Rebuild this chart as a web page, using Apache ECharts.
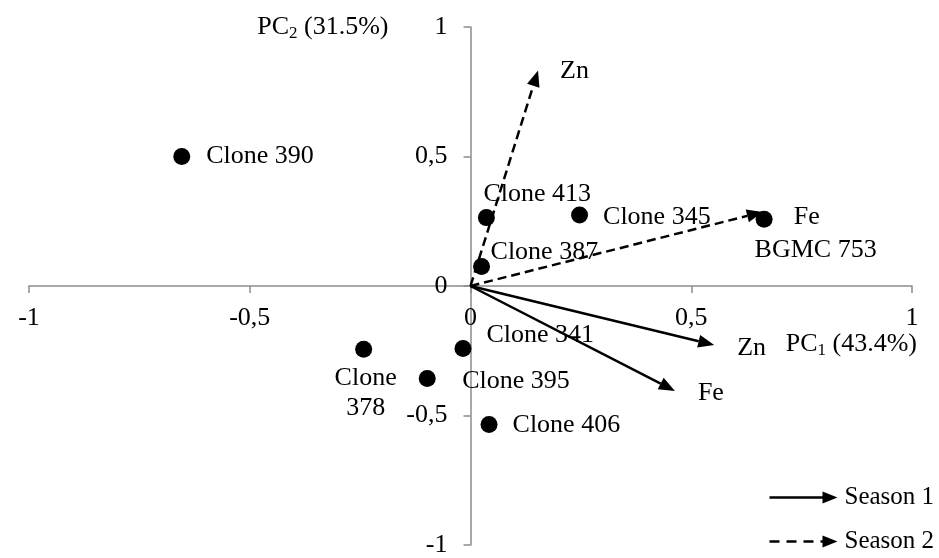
<!DOCTYPE html>
<html>
<head>
<meta charset="utf-8">
<script src="https://cdn.jsdelivr.net/npm/echarts@6/dist/echarts.min.js"></script>
<style>
  html, body { margin: 0; padding: 0; background: #ffffff; }
  #chart { width: 939px; height: 558px; }
</style>
</head>
<body>
<div id="chart"></div>
<script>
// PCA scores of the clones (PC1, PC2)
const clones = ['Clone 390', 'Clone 413', 'Clone 345', 'Clone 387', 'BGMC 753',
                'Clone 341', 'Clone\n378', 'Clone 395', 'Clone 406'];
const pc1Scores = [-0.654, 0.036, 0.247, 0.025, 0.665, -0.017, -0.242, -0.098, 0.042];
const pc2Scores = [0.500, 0.264, 0.274, 0.075, 0.258, -0.241, -0.244, -0.357, -0.535];

// Trait loadings (vectors from the origin)
const traits = ['Zn', 'Fe', 'Zn', 'Fe'];
const traitSeason = ['Season 1', 'Season 1', 'Season 2', 'Season 2'];
const pc1Loadings = [0.552, 0.463, 0.153, 0.662];
const pc2Loadings = [-0.228, -0.405, 0.832, 0.286];

// Axis ticks and their printed labels (decimal comma)
const axisTicks = [-1, -0.5, 0, 0.5, 1];
const tickLabels = ['-1', '-0,5', '0', '0,5', '1'];

const FONT = '"Liberation Serif", "Times New Roman", serif';
const FS = 26;
const AXIS_GRAY = '#8c8c8c';

// plot area
const GRID = { left: 29, right: 27, top: 27, bottom: 13 };
const PLOT_W = 939 - GRID.left - GRID.right;
const PLOT_H = 558 - GRID.top - GRID.bottom;

// label placement for each clone: [dx, dy] from the right edge of the dot
const cloneLabelOffset = {
  'Clone 390': [16, 0],
  'Clone 413': [-11.5, -23],
  'Clone 345': [15, 2],
  'Clone 387': [0.5, -14],
  'BGMC 753': [-18, 31],
  'Clone 341': [15, -13],
  'Clone 395': [26.5, 3],
  'Clone 406': [15, 1]
};
// trait-label placement relative to the arrow tip
const traitLabelOffset = [[23, 3], [23, 2], [22, 1], [31, 5]];

function tickText(v) {
  const i = axisTicks.findIndex(t => Math.abs(t - v) < 1e-9);
  return i >= 0 ? tickLabels[i] : '';
}

const scatterData = clones.map((name, i) => {
  const item = { name: name, value: [pc1Scores[i], pc2Scores[i]] };
  if (name.indexOf('\n') >= 0) {
    item.label = { position: 'bottom', distance: 5, offset: [2, 0], lineHeight: 30, align: 'center' };
  } else {
    item.label = { position: 'right', distance: 0, offset: cloneLabelOffset[name] };
  }
  return item;
});

function arrowData(season) {
  const out = [];
  traits.forEach((t, i) => {
    if (traitSeason[i] === season) out.push([pc1Loadings[i], pc2Loadings[i], i]);
  });
  return out;
}

function arrowRenderer(dashed) {
  return function (params, api) {
    const idx = api.value(2);
    const tip = api.coord([api.value(0), api.value(1)]);
    const o = api.coord([0, 0]);
    const dx = tip[0] - o[0], dy = tip[1] - o[1];
    const len = Math.sqrt(dx * dx + dy * dy);
    const ux = dx / len, uy = dy / len;
    const headLen = 16, headHalf = 6.5;
    const bx = tip[0] - ux * headLen, by = tip[1] - uy * headLen;
    const px = -uy, py = ux;
    const off = traitLabelOffset[idx];
    return {
      type: 'group',
      children: [
        {
          type: 'line',
          shape: { x1: o[0], y1: o[1], x2: bx, y2: by },
          style: { stroke: '#000', lineWidth: 2.5, lineDash: dashed ? [9, 5] : null }
        },
        {
          type: 'polygon',
          shape: { points: [[tip[0], tip[1]], [bx + px * headHalf, by + py * headHalf], [bx - px * headHalf, by - py * headHalf]] },
          style: { fill: '#000' }
        },
        {
          type: 'text',
          x: tip[0] + off[0],
          y: tip[1] + off[1],
          style: { text: traits[idx], fill: '#000', font: FS + 'px ' + FONT, align: 'left', verticalAlign: 'middle' }
        }
      ]
    };
  };
}

const axisCommon = {
  type: 'value',
  min: -1,
  max: 1,
  interval: 0.5,
  splitLine: { show: false },
  axisLine: { onZero: false, lineStyle: { color: AXIS_GRAY, width: 1.5 } },
  axisTick: { show: true, inside: false, length: 7, lineStyle: { color: AXIS_GRAY, width: 1.5 } },
  nameMoveOverlap: false
};

const labelCommon = {
  color: '#000',
  fontFamily: FONT,
  fontSize: FS,
  showMinLabel: true,
  showMaxLabel: true,
  hideOverlap: false,
  formatter: tickText
};

const nameRich = {
  t: { fontFamily: FONT, fontSize: FS, color: '#000', lineHeight: 30 },
  s: { fontFamily: FONT, fontSize: 17, color: '#000', lineHeight: 12, verticalAlign: 'bottom' }
};

const chart = echarts.init(document.getElementById('chart'), null, { renderer: 'canvas' });

chart.setOption({
  backgroundColor: '#ffffff',
  animation: false,
  grid: Object.assign({ containLabel: false, outerBoundsMode: 'none' }, GRID),
  xAxis: Object.assign({}, axisCommon, {
    position: 'bottom',
    offset: -PLOT_H / 2,          // axis drawn through y = 0
    name: '{t|PC}{s|1}{t| (43.4%)}',
    nameLocation: 'end',
    nameGap: 5,
    nameTextStyle: { align: 'right', verticalAlign: 'top', padding: [43, 0, 0, 0], rich: nameRich },
    axisLabel: Object.assign({}, labelCommon, { margin: 19 })
  }),
  yAxis: Object.assign({}, axisCommon, {
    position: 'left',
    offset: -PLOT_W / 2,          // axis drawn through x = 0
    name: '{t|PC}{s|2}{t| (31.5%)}',
    nameLocation: 'end',
    nameGap: 0,
    nameTextStyle: { align: 'right', verticalAlign: 'middle', padding: [0, 82, 0, 0], rich: nameRich },
    axisLabel: Object.assign({}, labelCommon, { margin: 23 })
  }),
  series: [
    {
      name: 'Season 1',
      type: 'custom',
      z: 2,
      renderItem: arrowRenderer(false),
      data: arrowData('Season 1')
    },
    {
      name: 'Season 2',
      type: 'custom',
      z: 2,
      renderItem: arrowRenderer(true),
      data: arrowData('Season 2')
    },
    {
      name: 'Clones',
      type: 'scatter',
      z: 3,
      symbol: 'circle',
      symbolSize: 17,
      itemStyle: { color: '#000', opacity: 1 },
      label: {
        show: true,
        formatter: '{b}',
        color: '#000',
        opacity: 1,
        fontFamily: FONT,
        fontSize: FS
      },
      emphasis: { disabled: true },
      data: scatterData
    }
  ],
  graphic: [
    {
      type: 'group',
      left: 767,
      top: 485,
      children: [
        { type: 'line', shape: { x1: 0, y1: 13, x2: 54, y2: 13 }, style: { stroke: '#000', lineWidth: 2.5 } },
        { type: 'polygon', shape: { points: [[53, 7], [68, 13], [53, 19]] }, style: { fill: '#000' } },
        { type: 'text', x: 75, y: 13, style: { text: 'Season 1', fill: '#000', font: '25px ' + FONT, verticalAlign: 'middle' } },
        { type: 'line', shape: { x1: 0, y1: 57, x2: 54, y2: 57 }, style: { stroke: '#000', lineWidth: 2.5, lineDash: [10, 7] } },
        { type: 'polygon', shape: { points: [[53, 51], [68, 57], [53, 63]] }, style: { fill: '#000' } },
        { type: 'text', x: 75, y: 57, style: { text: 'Season 2', fill: '#000', font: '25px ' + FONT, verticalAlign: 'middle' } }
      ]
    }
  ]
});
</script>
</body>
</html>
